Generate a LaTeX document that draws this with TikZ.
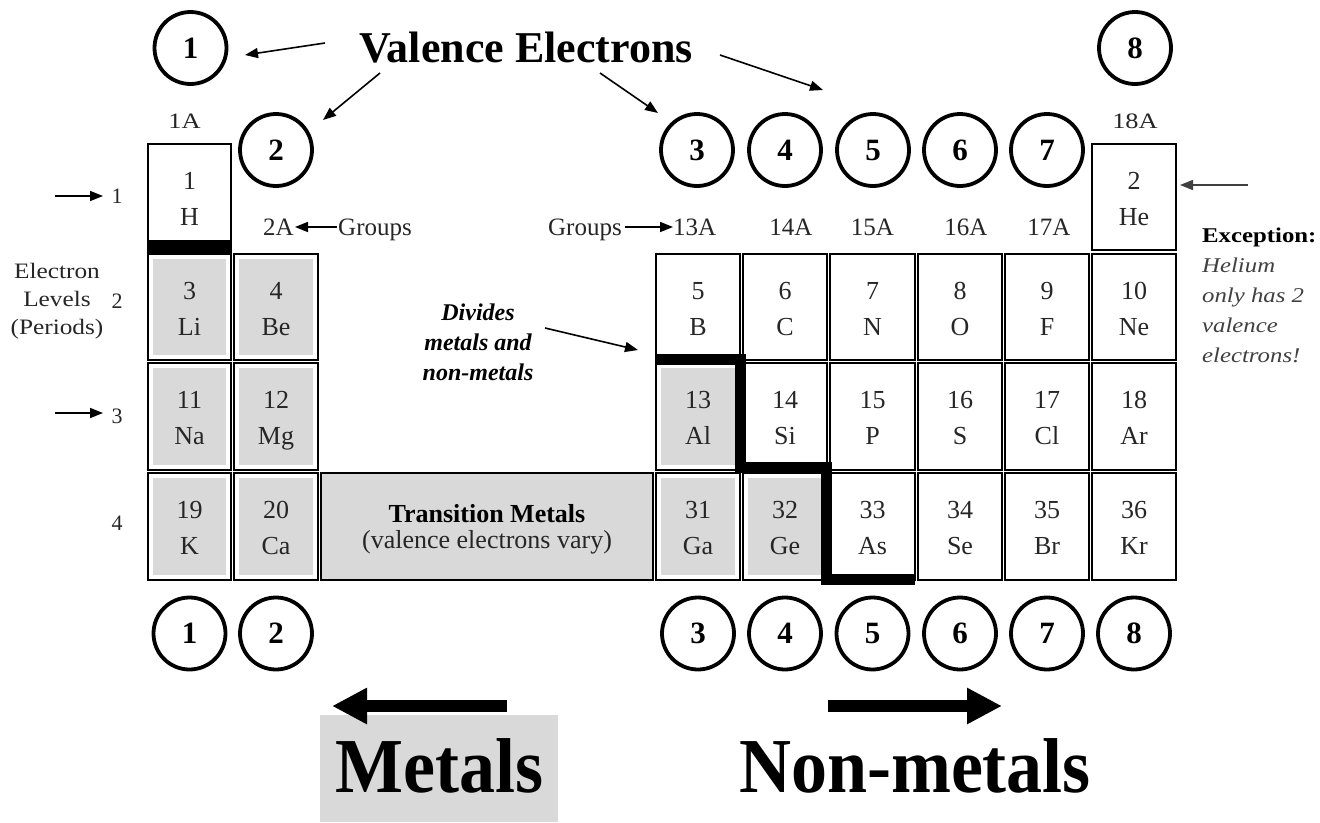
\documentclass[tikz,border=0pt]{standalone}
\usepackage{fontspec}
\setmainfont{Liberation Serif}
\usepackage{graphicx}
\usetikzlibrary{arrows.meta}
\definecolor{cellgray}{RGB}{217,217,217}
\newcommand{\fsz}[1]{\fontsize{#1}{#1}\selectfont}
% #1 name, #2 x0, #3 y0, #4 x1, #5 y1, #6 text centre y, #7 number, #8 symbol, #9 style
\newcommand{\pcell}[9]{%
  \node[cellbox,#9,minimum width=#4-#2-2,minimum height=#5-#3-2] (#1) at ({(#2+#4)/2},{(#3+#5)/2}) {};
  \node[celltxt] (#1-n) at ({(#2+#4)/2},#6-8) {#7};
  \node[celltxt] (#1-s) at ({(#2+#4)/2},#6+28) {#8};
}
\begin{document}
\begin{tikzpicture}[x=1pt,y=-1pt,
  cellbox/.style={draw=black,line width=1.8pt,inner sep=0pt,outer sep=0pt},
  metal/.style={path picture={\fill[cellgray] ([xshift=5pt,yshift=-5pt]path picture bounding box.north west) rectangle ([xshift=-5pt,yshift=5pt]path picture bounding box.south east);}},
  plain/.style={},
  celltxt/.style={anchor=base,inner sep=0pt,font=\fsz{26},text=black!85},
  vcirc/.style={circle,draw=black,line width=3.8pt,minimum size=72pt,inner sep=0pt,font=\fsz{31}\bfseries},
  thinarrow/.style={line width=1.6pt,-{Triangle[length=13pt,width=10pt]}},
  bigarrow/.style={line width=12pt,-{Triangle[length=35pt,width=34pt]}},
  lbl/.style={anchor=base,inner sep=0pt,font=\fsz{25},text=black!85},
  small/.style={anchor=base,inner sep=0pt,font=\fsz{22},text=black!85},
  note/.style={anchor=base west,inner sep=0pt,font=\fsz{21}},
  divtxt/.style={anchor=base,inner sep=0pt,font=\fsz{24}\bfseries\itshape},
]
\useasboundingbox (0,0) rectangle (1320,822);

% ---------- cells ----------
\pcell{H}{147}{143}{232}{242}{197}{1}{H}{plain}
\pcell{He}{1091}{143}{1177}{251}{197}{2}{He}{plain}

\pcell{Li}{147}{253}{232}{361}{307}{3}{Li}{metal}
\pcell{Be}{233}{253}{319}{361}{307}{4}{Be}{metal}
\pcell{B}{655}{253}{741}{361}{307}{5}{B}{plain}
\pcell{C}{742}{253}{828}{361}{307}{6}{C}{plain}
\pcell{N}{829}{253}{916}{361}{307}{7}{N}{plain}
\pcell{O}{917}{253}{1003}{361}{307}{8}{O}{plain}
\pcell{F}{1004}{253}{1090}{361}{307}{9}{F}{plain}
\pcell{Ne}{1091}{253}{1177}{361}{307}{10}{Ne}{plain}

\pcell{Na}{147}{362}{232}{471}{416.5}{11}{Na}{metal}
\pcell{Mg}{233}{362}{319}{471}{416.5}{12}{Mg}{metal}
\pcell{Al}{655}{362}{741}{471}{416.5}{13}{Al}{metal}
\pcell{Si}{742}{362}{828}{471}{416.5}{14}{Si}{plain}
\pcell{P}{829}{362}{916}{471}{416.5}{15}{P}{plain}
\pcell{S}{917}{362}{1003}{471}{416.5}{16}{S}{plain}
\pcell{Cl}{1004}{362}{1090}{471}{416.5}{17}{Cl}{plain}
\pcell{Ar}{1091}{362}{1177}{471}{416.5}{18}{Ar}{plain}

\pcell{K}{147}{472}{232}{581}{526.5}{19}{K}{metal}
\pcell{Ca}{233}{472}{319}{581}{526.5}{20}{Ca}{metal}
\pcell{Ga}{655}{472}{741}{581}{526.5}{31}{Ga}{metal}
\pcell{Ge}{742}{472}{828}{581}{526.5}{32}{Ge}{metal}
\pcell{As}{829}{472}{916}{581}{526.5}{33}{As}{plain}
\pcell{Se}{917}{472}{1003}{581}{526.5}{34}{Se}{plain}
\pcell{Br}{1004}{472}{1090}{581}{526.5}{35}{Br}{plain}
\pcell{Kr}{1091}{472}{1177}{581}{526.5}{36}{Kr}{plain}

% transition metals
\node[cellbox,fill=cellgray,minimum width=332,minimum height=107] (tm) at (487,526.5) {};
\node[anchor=base,inner sep=0pt,font=\fsz{26}\bfseries] (tm1) at (487,522) {Transition Metals};
\node[celltxt] (tm2) at (487,548) {(valence electrons vary)};

% bar under H and metal / non-metal divide
\node[fill=black,minimum width=85,minimum height=11,inner sep=0pt] (hbar) at (189.5,247.5) {};
\draw[line width=11pt,line join=miter] (655,359) -- (740,359) -- (740,467) -- (826,467) -- (826,579) -- (915,579);

% ---------- circles ----------
\node[vcirc] (t1) at (190.5,48) {1};
\node[vcirc] (t8) at (1135,48) {8};
\node[vcirc] (t2) at (276,150) {2};
\node[vcirc] (t3) at (697,150) {3};
\node[vcirc] (t4) at (785,150) {4};
\node[vcirc] (t5) at (873,150) {5};
\node[vcirc] (t6) at (960,150) {6};
\node[vcirc] (t7) at (1047,150) {7};

\node[vcirc] (b1) at (189.5,633.5) {1};
\node[vcirc] (b2) at (276,633.5) {2};
\node[vcirc] (b3) at (698,633.5) {3};
\node[vcirc] (b4) at (785,633.5) {4};
\node[vcirc] (b5) at (872.5,633.5) {5};
\node[vcirc] (b6) at (960,633.5) {6};
\node[vcirc] (b7) at (1047,633.5) {7};
\node[vcirc] (b8) at (1134,633.5) {8};

% ---------- valence electrons title and arrows ----------
\node[anchor=base,inner sep=0pt,font=\fsz{44}\bfseries] (ve) at (526,62) {Valence Electrons};
\coordinate (ve1s) at (325,43);  \coordinate (ve1e) at (245,55);
\coordinate (ve2s) at (380,73);  \coordinate (ve2e) at (323,120);
\coordinate (ve3s) at (600,73);  \coordinate (ve3e) at (658,113);
\coordinate (ve4s) at (720,55);  \coordinate (ve4e) at (823,90);
\draw[thinarrow] (ve1s) -- (ve1e);
\draw[thinarrow] (ve2s) -- (ve2e);
\draw[thinarrow] (ve3s) -- (ve3e);
\draw[thinarrow] (ve4s) -- (ve4e);

% ---------- group labels ----------
\node[small] (g1A) at (184.5,128) {\scalebox{1.2}[1]{1A}};
\node[small] (g18A) at (1135,128) {\scalebox{1.2}[1]{18A}};
\node[lbl,anchor=base east] (g2A) at (294,235) {2A};
\node[lbl,anchor=base west] (grpL) at (338,235) {Groups};
\coordinate (grpLs) at (337,227); \coordinate (grpLe) at (295,227);
\draw[thinarrow] (grpLs) -- (grpLe);
\node[lbl,anchor=base east] (grpR) at (622,235) {Groups};
\node[lbl,anchor=base west] (g13A) at (673,235) {13A};
\coordinate (grpRs) at (625,227); \coordinate (grpRe) at (673,227);
\draw[thinarrow] (grpRs) -- (grpRe);
\node[lbl] (g14A) at (791,235) {14A};
\node[lbl] (g15A) at (872.5,235) {15A};
\node[lbl] (g16A) at (966,235) {16A};
\node[lbl] (g17A) at (1049,235) {17A};

% ---------- periods ----------
\node[small] (p1) at (117,203) {1};
\node[small] (p2) at (117,308) {2};
\node[small] (p3) at (117,423) {3};
\node[small] (p4) at (117,530) {4};
\coordinate (p1s) at (55,196); \coordinate (p1e) at (103,196);
\coordinate (p3s) at (55,413); \coordinate (p3e) at (103,413);
\draw[thinarrow] (p1s) -- (p1e);
\draw[thinarrow] (p3s) -- (p3e);
\node[small] (el1) at (57,278) {\scalebox{1.15}[1]{Electron}};
\node[small] (el2) at (57,306) {\scalebox{1.15}[1]{Levels}};
\node[small] (el3) at (57,334) {\scalebox{1.15}[1]{(Periods)}};

% ---------- divides note ----------
\node[divtxt] (dv1) at (478,320) {Divides};
\node[divtxt] (dv2) at (478,350) {metals and};
\node[divtxt] (dv3) at (478,380) {non-metals};
\coordinate (dvs) at (545,328); \coordinate (dve) at (638,350);
\draw[thinarrow] (dvs) -- (dve);

% ---------- exception note ----------
\coordinate (exs) at (1248,185); \coordinate (exe) at (1180,185);
\draw[thinarrow,black!75] (exs) -- (exe);
\node[note] (ex1) at (1202,242) {\scalebox{1.18}[1]{\bfseries Exception:}};
\node[note,text=black!75] (ex2) at (1202,272) {\scalebox{1.18}[1]{\itshape Helium}};
\node[note,text=black!75] (ex3) at (1202,302) {\scalebox{1.18}[1]{\itshape only has 2}};
\node[note,text=black!75] (ex4) at (1202,332) {\scalebox{1.18}[1]{\itshape valence}};
\node[note,text=black!75] (ex5) at (1202,362) {\scalebox{1.18}[1]{\itshape electrons!}};

% ---------- metals / non-metals ----------
\node[fill=cellgray,minimum width=238,minimum height=107,inner sep=0pt] (metbox) at (439,768.5) {};
\node[anchor=base,inner sep=0pt,font=\fsz{72}\bfseries] (metals) at (439.5,792) {\scalebox{1}[1.08]{Metals}};
\node[anchor=base,inner sep=0pt,font=\fsz{72}\bfseries] (nonmetals) at (915,792) {\scalebox{1}[1.08]{Non-metals}};
\coordinate (mas) at (507,706); \coordinate (mae) at (332,706);
\coordinate (nas) at (828,706); \coordinate (nae) at (1002,706);
\draw[bigarrow] (mas) -- (mae);
\draw[bigarrow] (nas) -- (nae);
\end{tikzpicture}
\end{document}
